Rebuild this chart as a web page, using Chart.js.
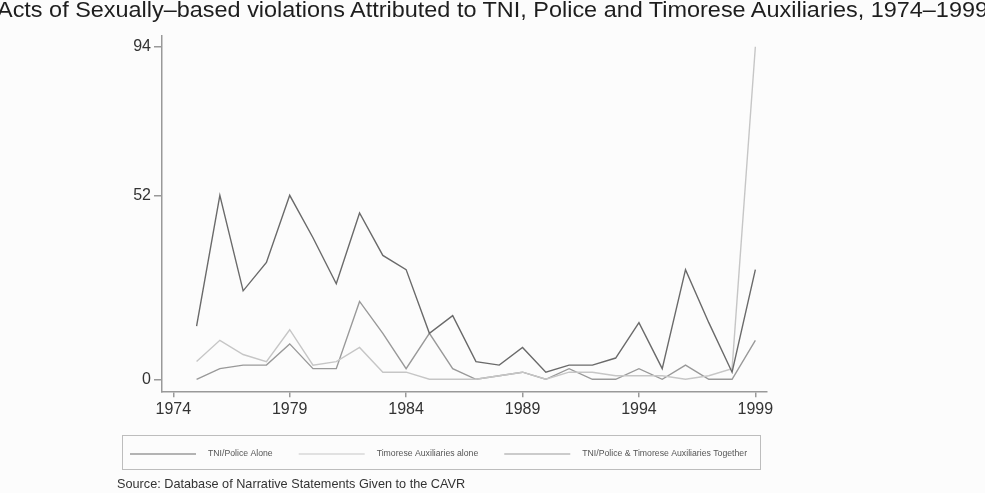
<!DOCTYPE html>
<html>
<head>
<meta charset="utf-8">
<script src="https://cdn.jsdelivr.net/npm/chart.js@4.4.1/dist/chart.umd.min.js"></script>
<style>
  html, body { margin:0; padding:0; background:#fcfcfc; }
  .wrap { position:relative; width:985px; height:493px; overflow:hidden; }
  canvas { position:absolute; left:0; top:0; }
  #titulo { position:absolute; left:-3px; top:-1px; font:22.5px 'Liberation Sans', Arial, sans-serif;
            color:#1e1e1e; white-space:nowrap; line-height:1; transform-origin:0 0; }
</style>
</head>
<body>
<div class="wrap">
  <canvas id="chart" width="985" height="493"></canvas>
  <div id="titulo">Acts of Sexually–based violations Attributed to TNI, Police and Timorese Auxiliaries, 1974–1999</div>
</div>
<script>
// dados (1975–1999)
const ANOS = [1975,1976,1977,1978,1979,1980,1981,1982,1983,1984,1985,1986,1987,1988,1989,1990,1991,1992,1993,1994,1995,1996,1997,1998,1999];
const TNI_POLICIA  = [15,52,25,33,52,40,27,47,35,31,13,18, 5, 4, 9, 2, 4, 4, 6,16, 3,31,16, 2,31];
const TIMORENSES   = [ 5,11, 7, 5,14, 4, 5, 9, 2, 2, 0, 0, 0, 1, 2, 0, 2, 2, 1, 1, 1, 0, 1, 3,94];
const JUNTOS       = [ 0, 3, 4, 4,10, 3, 3,22,13, 3,13, 3, 0, 1, 2, 0, 3, 0, 0, 3, 0, 4, 0, 0,11];

const SERIES = ['TNI/Police Alone', 'Timorese Auxiliaries alone', 'TNI/Police & Timorese Auxiliaries Together'];
const CORES  = ['#6a6a6a', '#c6c6c6', '#999999'];
const X_TICKS = [1974,1979,1984,1989,1994,1999];
const Y_TICKS = [0,52,94];
const FONTE = 'Source: Database of Narrative Statements Given to the CAVR';
const FAMILIA = "'Liberation Sans', Arial, sans-serif";

// título esticado para ocupar a largura toda
const tit = document.getElementById('titulo');
tit.style.transform = `scaleX(${991 / tit.getBoundingClientRect().width})`;

const pontos = vals => ANOS.map((a, i) => ({ x: a, y: vals[i] }));

// legenda emoldurada no estilo Stata
const legendaBox = {
  id: 'legendaBox',
  afterDraw(chart) {
    const ctx = chart.ctx;
    const cy = 454;
    ctx.save();
    ctx.strokeStyle = '#bdbdbd'; ctx.lineWidth = 1;
    ctx.strokeRect(122.5, 435.5, 638, 34);
    ctx.font = `8.7px ${FAMILIA}`;
    ctx.textBaseline = 'middle';
    let x = 130;
    chart.data.datasets.forEach(ds => {
      ctx.strokeStyle = ds.borderColor; ctx.lineWidth = 1.2;
      ctx.beginPath(); ctx.moveTo(x, cy); ctx.lineTo(x + 66, cy); ctx.stroke();
      x += 78;
      ctx.fillStyle = '#555';
      ctx.fillText(ds.label, x, cy);
      x += ctx.measureText(ds.label).width + 26;
    });
    ctx.restore();
  }
};

const eixo = { color:'#999', width:1.5 };

new Chart(document.getElementById('chart'), {
  type: 'line',
  data: {
    datasets: [TNI_POLICIA, TIMORENSES, JUNTOS].map((v, i) => ({
      label: SERIES[i], data: pontos(v),
      borderColor: CORES[i], backgroundColor: CORES[i],
      borderWidth: 1.4, pointRadius: 0, tension: 0, fill: false
    }))
  },
  options: {
    responsive: false, animation: false,
    layout: { padding: { left:117, right:218, top:36, bottom:0 } },
    plugins: {
      legend: { display:false },
      tooltip: { enabled:false },
      subtitle: { display:true, position:'bottom', align:'start', text:FONTE, color:'#333',
                  font:{ size:12.7, family:FAMILIA }, padding:{ top:0, bottom:1 } }
    },
    scales: {
      x: {
        type:'linear', min:1973.515, max:1999.5,
        afterBuildTicks: s => { s.ticks = X_TICKS.map(v => ({ value:v })); },
        afterFit: s => { s.height = 85.5; },
        grid: { drawOnChartArea:false, tickLength:6, color:'#999', lineWidth:1.5 },
        border: eixo,
        ticks: { callback: v => String(v), padding:3, color:'#333', maxRotation:0,
                 font:{ size:16, family:FAMILIA } }
      },
      y: {
        type:'linear', min:-3.39, max:97.03,
        afterBuildTicks: s => { s.ticks = Y_TICKS.map(v => ({ value:v })); },
        afterFit: s => { s.width = 45; },
        grid: { drawOnChartArea:false, tickLength:8, color:'#999', lineWidth:1.5 },
        border: eixo,
        ticks: { padding:3, color:'#333', font:{ size:16, family:FAMILIA } }
      }
    }
  },
  plugins: [legendaBox]
});
</script>
</body>
</html>
